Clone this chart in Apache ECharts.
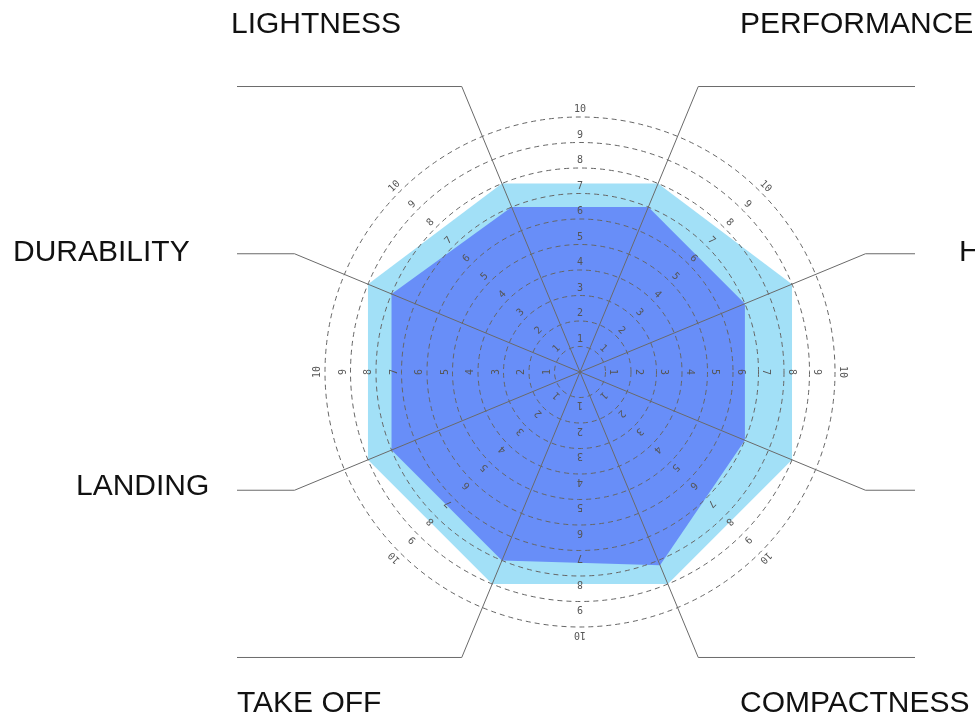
<!DOCTYPE html>
<html>
<head>
<meta charset="utf-8">
<script src="https://cdn.jsdelivr.net/npm/echarts@6/dist/echarts.min.js"></script>
<style>
  html, body { margin: 0; padding: 0; background: #fff; }
  #main { width: 975px; height: 719px; }
</style>
</head>
<body>
<div id="main"></div>
<script>
// ---- data ----
// indicators in radar order (counter-clockwise, starting upper-left)
var indicatorNames = ['LIGHTNESS', 'DURABILITY', 'LANDING', 'TAKE OFF', 'COMPACTNESS', 'STABILITY', 'HANDLING', 'PERFORMANCE'];
var outerValues = [8, 9, 9, 9, 9, 9, 9, 8];
var innerValues = [7, 8, 8, 8, 8.2, 7, 7, 7];
var tickValues = [1, 2, 3, 4, 5, 6, 7, 8, 9, 10];
var tickLabelAngles = [0, 45, 90, 135, 180, 225, 270, 315];
var maxValue = 10;

// ---- layout ----
var CX = 580, CY = 372, R = 255, START = 112.5;
var LEADER_R = 309;         // px, where axis bends into horizontal leader
var LEADER_LEFT_X = 237, LEADER_RIGHT_X = 915;
var labelPos = {
  'LIGHTNESS':   [231, 35],
  'DURABILITY':  [13, 263],
  'LANDING':     [76, 497],
  'TAKE OFF':    [237, 714],
  'COMPACTNESS': [740, 714],
  'STABILITY':   [995, 497],
  'HANDLING':    [959, 263],
  'PERFORMANCE': [740, 35]
};

var axisAngles = indicatorNames.map(function (n, i) { return (START + i * 360 / indicatorNames.length) % 360; });

var chart = echarts.init(document.getElementById('main'));

var leaderData = axisAngles.map(function (a) { return [maxValue, a]; });
var tickData = [];
tickLabelAngles.forEach(function (a) {
  tickValues.forEach(function (v) { tickData.push([v, a]); });
});

var graphics = indicatorNames.map(function (n) {
  var p = labelPos[n];
  return {
    type: 'text', x: p[0], y: p[1] - 10.5, silent: true,
    style: { text: n, fill: '#111', font: '30px "Liberation Sans", Arial, sans-serif', align: 'left', verticalAlign: 'middle' }
  };
});

var option = {
  backgroundColor: '#fff',
  animation: false,
  radar: {
    z: 10,
    center: [CX, CY],
    radius: R,
    startAngle: START,
    shape: 'circle',
    splitNumber: 10,
    indicator: indicatorNames.map(function (n) { return { name: n, min: 0, max: maxValue }; }),
    axisName: { show: false },
    axisLine: { show: false },
    axisTick: { show: false },
    axisLabel: { show: false },
    splitArea: { show: false },
    splitLine: { show: true, lineStyle: { color: '#666', width: 1, type: [5, 4] } }
  },
  polar: { center: [CX, CY], radius: R },
  angleAxis: { type: 'value', min: 0, max: 360, startAngle: 0, clockwise: false, show: false },
  radiusAxis: { type: 'value', min: 0, max: maxValue, show: false },
  graphic: graphics,
  series: [
    {
      type: 'radar', z: 2, symbol: 'none', silent: true,
      lineStyle: { width: 0, opacity: 0 },
      data: [
        { value: outerValues, areaStyle: { color: '#a2e0f7', opacity: 1 } },
        { value: innerValues, areaStyle: { color: '#688ef8', opacity: 1 } }
      ]
    },
    {
      type: 'custom', coordinateSystem: 'polar', z: 20, silent: true,
      data: leaderData,
      renderItem: function (params, api) {
        var c = api.coord([0, api.value(1)]);
        var p = api.coord([api.value(0), api.value(1)]);
        var dx = p[0] - c[0], dy = p[1] - c[1];
        var len = Math.sqrt(dx * dx + dy * dy);
        var b = [c[0] + dx / len * LEADER_R, c[1] + dy / len * LEADER_R];
        var endX = dx < 0 ? LEADER_LEFT_X : LEADER_RIGHT_X;
        return {
          type: 'polyline',
          shape: { points: [c, b, [endX, b[1]]] },
          style: { stroke: '#6a6a6a', lineWidth: 1, fill: null }
        };
      }
    },
    {
      type: 'custom', coordinateSystem: 'polar', z: 21, silent: true,
      data: tickData,
      renderItem: function (params, api) {
        var v = api.value(0), a = api.value(1);
        var c = api.coord([0, a]);
        var p = api.coord([v, a]);
        var dx = p[0] - c[0], dy = p[1] - c[1];
        var len = Math.sqrt(dx * dx + dy * dy) || 1;
        var x = p[0] + dx / len * 7.5, y = p[1] + dy / len * 7.5;
        return {
          type: 'text',
          x: x, y: y,
          rotation: (a - 90) * Math.PI / 180,
          style: { text: String(v), fill: '#555', font: '10px "DejaVu Sans Mono", monospace', align: 'center', verticalAlign: 'middle' }
        };
      }
    }
  ]
};
chart.setOption(option);
</script>
</body>
</html>
